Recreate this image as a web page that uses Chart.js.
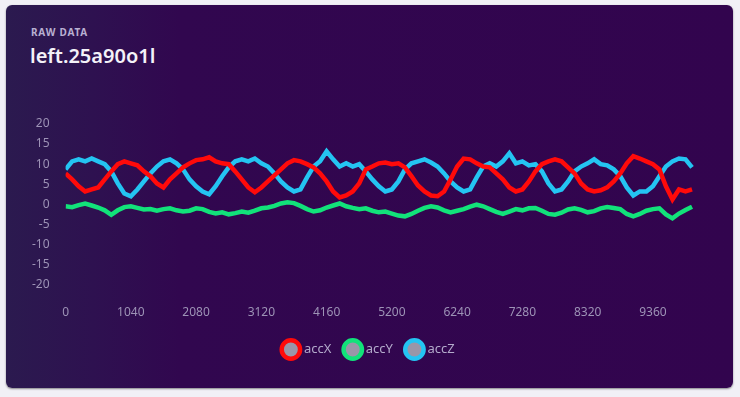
<!DOCTYPE html>
<html>
<head>
<meta charset="utf-8">
<script src="https://cdn.jsdelivr.net/npm/chart.js@4/dist/chart.umd.min.js"></script>
<style>
  html, body { margin: 0; padding: 0; background: #f1f0f6; width: 740px; height: 397px; overflow: hidden; }
  .card {
    position: absolute; left: 6px; top: 5px; width: 727px; height: 383px;
    border-radius: 6px;
    background: linear-gradient(90deg, #2b1a4f 0%, #2e1150 12%, #31074f 24%, #32044e 100%);
    box-shadow: 0 1px 2px rgba(0,0,0,0.45);
    font-family: "Noto Sans", sans-serif;
  }
  .kicker { position: absolute; left: 25px; top: 20px; font-size: 10px; font-weight: 700; letter-spacing: 0.8px; color: #b9b0d2; }
  .title { position: absolute; left: 24px; top: 37px; font-size: 20px; font-weight: 600; color: #f4f2f8; }
  .chart-box { position: absolute; left: 0; top: 92px; width: 727px; height: 273px; }
</style>
</head>
<body>
<div class="card">
  <div class="kicker">RAW DATA</div>
  <div class="title">left.25a90o1l</div>
  <div class="chart-box"><canvas id="myChart"></canvas></div>
</div>
<script>
// sample timestamps (ms)
const timestamps = [
  0,104,208,312,416,520,624,728,832,936,
  1040,1144,1248,1352,1456,1560,1664,1768,1872,1976,
  2080,2184,2288,2392,2496,2600,2704,2808,2912,3016,
  3120,3224,3328,3432,3536,3640,3744,3848,3952,4056,
  4160,4264,4368,4472,4576,4680,4784,4888,4992,5096,
  5200,5304,5408,5512,5616,5720,5824,5928,6032,6136,
  6240,6344,6448,6552,6656,6760,6864,6968,7072,7176,
  7280,7384,7488,7592,7696,7800,7904,8008,8112,8216,
  8320,8424,8528,8632,8736,8840,8944,9048,9152,9256,
  9360,9464,9568,9672,9776,9880,9984
];

const xTickLabels = [0, 1040, 2080, 3120, 4160, 5200, 6240, 7280, 8320, 9360];
const yTickLabels = [20, 15, 10, 5, 0, -5, -10, -15, -20];

const accX = [
  7.7, 6.2, 4.5, 3.2, 3.7, 4.2, 6.2, 8.2, 10.0, 10.7,
  10.2, 9.7, 8.2, 7.0, 5.2, 4.2, 6.2, 7.7, 9.2, 10.2,
  11.0, 11.2, 11.7, 10.7, 10.2, 10.0, 8.2, 6.2, 4.2, 3.0,
  4.2, 5.7, 7.2, 8.7, 10.2, 11.0, 10.7, 10.0, 9.2, 7.7,
  5.7, 3.2, 1.7, 2.2, 3.2, 5.2, 8.7, 9.4, 10.2, 10.4,
  10.0, 10.2, 9.2, 7.0, 4.7, 3.2, 2.2, 2.0, 3.2, 6.2,
  9.4, 11.4, 11.2, 10.2, 9.4, 9.2, 7.7, 6.2, 4.2, 3.2,
  3.7, 5.7, 8.2, 10.0, 10.7, 11.2, 10.7, 9.2, 7.7, 5.2,
  3.7, 3.2, 3.5, 4.2, 5.7, 7.7, 10.2, 12.0, 11.4, 10.7,
  10.0, 8.7, 4.5, 1.2, 3.7, 3.2, 3.7
];

const accY = [
  -0.5, -0.7, -0.2, 0.2, -0.3, -0.8, -1.5, -2.6, -1.5, -0.7,
  -0.5, -0.9, -1.3, -1.2, -1.6, -1.2, -1.0, -1.5, -1.8, -1.6,
  -1.0, -1.2, -1.9, -2.3, -2.0, -2.5, -2.2, -1.8, -2.1, -1.6,
  -1.0, -0.8, -0.4, 0.2, 0.5, 0.3, -0.4, -1.2, -1.8, -1.5,
  -0.8, -0.3, 0.2, -0.5, -0.9, -1.2, -1.0, -1.6, -2.0, -1.8,
  -2.3, -2.8, -3.0, -2.4, -1.6, -0.9, -0.5, -0.8, -1.5, -2.0,
  -1.6, -1.2, -0.6, -0.1, -0.5, -1.2, -1.9, -2.4, -1.8, -1.2,
  -1.5, -1.0, -0.9, -1.6, -2.4, -2.6, -2.1, -1.3, -1.0, -1.4,
  -2.0, -1.7, -1.0, -0.7, -0.9, -1.2, -2.4, -3.0, -2.4, -1.6,
  -1.2, -1.0, -2.5, -3.5, -2.3, -1.4, -0.6
];

const accZ = [
  8.7, 10.7, 11.2, 10.7, 11.4, 10.7, 10.0, 8.2, 5.2, 2.7,
  2.0, 3.7, 5.7, 7.7, 9.4, 10.7, 11.2, 10.2, 8.7, 6.2,
  4.5, 3.2, 2.5, 4.5, 7.0, 9.2, 10.7, 11.2, 10.7, 11.4,
  10.2, 9.4, 7.7, 5.7, 4.2, 3.2, 3.7, 6.7, 9.4, 10.7,
  13.2, 11.2, 9.4, 10.2, 9.4, 10.0, 8.2, 6.2, 4.5, 3.2,
  3.7, 5.7, 8.7, 10.2, 10.7, 11.2, 10.4, 9.4, 7.7, 5.7,
  4.2, 3.2, 3.7, 6.7, 9.4, 10.2, 9.4, 10.7, 12.7, 10.2,
  10.7, 9.7, 10.0, 8.2, 5.2, 3.2, 3.7, 5.7, 8.2, 9.4,
  10.2, 11.2, 10.0, 9.7, 8.7, 7.0, 4.2, 2.2, 3.2, 3.2,
  4.5, 7.0, 9.4, 10.7, 11.4, 11.2, 9.2
];

const seriesColors = { accX: '#ff0a0a', accY: '#12e27a', accZ: '#24c4f2' };
const legendFill = '#9a96a8';
const tickColor = '#9d93b6';

// pair each value with its timestamp
function toPoints(values) {
  return values.map((v, i) => ({ x: timestamps[i], y: v }));
}

function makeDataset(label, values) {
  return {
    label: label,
    data: toPoints(values),
    borderColor: seriesColors[label],
    backgroundColor: legendFill,
    borderWidth: 4.5,
    pointRadius: 0,
    tension: 0,
    fill: false
  };
}

const ctx = document.getElementById('myChart').getContext('2d');
new Chart(ctx, {
  type: 'line',
  data: {
    datasets: [
      makeDataset('accX', accX),
      makeDataset('accY', accY),
      makeDataset('accZ', accZ)
    ]
  },
  options: {
    responsive: true,
    maintainAspectRatio: false,
    animation: false,
    layout: { padding: { left: 18, right: 18, top: 27, bottom: 4 } },
    plugins: {
      tooltip: { enabled: false },
      legend: {
        position: 'bottom',
        labels: {
          usePointStyle: true,
          boxWidth: 13,
          boxHeight: 13,
          padding: 15,
          color: '#b3aacb',
          font: { family: 'Noto Sans', size: 13 }
        }
      }
    },
    scales: {
      x: {
        type: 'linear',
        min: 0,
        max: 10350,
        grid: { display: false },
        border: { display: false },
        afterBuildTicks: function (scale) {
          scale.ticks = xTickLabels.map(v => ({ value: v }));
        },
        afterFit: function (scale) {
          scale.height -= 5;
        },
        ticks: {
          maxRotation: 0,
          padding: 13,
          color: tickColor,
          font: { family: 'Noto Sans', size: 12 },
          callback: function (value) {
            return String(value);
          }
        }
      },
      y: {
        min: -20,
        max: 20,
        grid: { display: false },
        border: { display: false },
        afterBuildTicks: function (scale) {
          scale.ticks = yTickLabels.map(v => ({ value: v }));
        },
        ticks: {
          padding: 8,
          color: tickColor,
          font: { family: 'Noto Sans', size: 12 }
        }
      }
    }
  }
});
</script>
</body>
</html>
